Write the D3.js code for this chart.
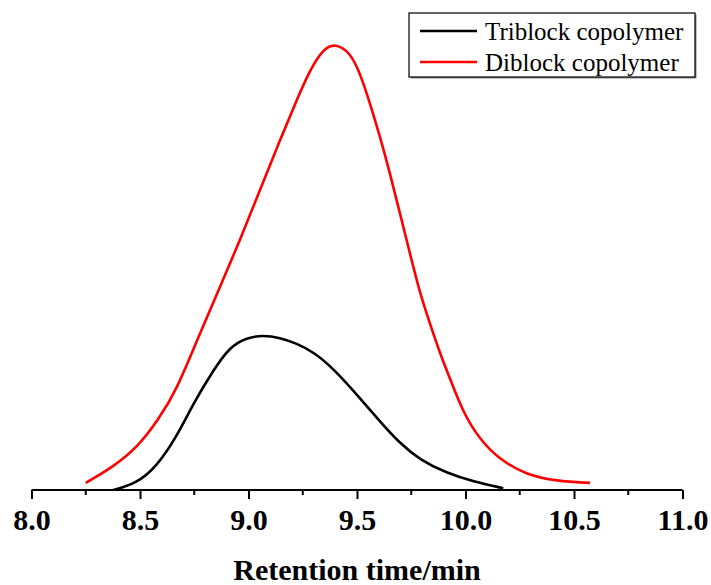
<!DOCTYPE html>
<html>
<head>
<meta charset="utf-8">
<script src="https://cdn.jsdelivr.net/npm/d3@7"></script>
<style>
  body { margin: 0; background: #fff; }
  svg { display: block; }
  text { font-family: "Liberation Serif", "Times New Roman", Times, Tinos, "DejaVu Serif", serif; }
</style>
</head>
<body>
<div id="chart"></div>
<script>
// retention time (min) and detector response (arbitrary units)
var diblockTime = [8.250, 8.377, 8.492, 8.584, 8.669, 8.776, 8.869, 8.961, 9.053, 9.145,
  9.222, 9.283, 9.345, 9.399, 9.468, 9.514, 9.560, 9.606, 9.652, 9.698, 9.744, 9.790,
  9.836, 9.882, 9.928, 9.990, 10.067, 10.159, 10.282, 10.420, 10.574];
var diblockSignal = [1.6, 5.2, 9.8, 15.8, 22.5, 35.3, 45.8, 56.3, 67.6, 78.8,
  87.8, 94.6, 99.4, 100.6, 98.6, 93.9, 87.1, 79.6, 71.3, 62.3, 53.3, 44.3,
  37.5, 30.8, 25.2, 17.3, 11.3, 6.8, 3.4, 2.0, 1.6];

var triblockTime = [8.376, 8.485, 8.577, 8.669, 8.746, 8.838, 8.915, 8.992, 9.068, 9.145,
  9.222, 9.299, 9.391, 9.514, 9.606, 9.698, 9.790, 9.913, 10.036, 10.174];
var triblockSignal = [0, 1.5, 5.3, 12.0, 19.5, 27.0, 32.3, 34.3, 34.9, 34.3,
  33.0, 31.1, 27.4, 20.7, 15.4, 10.5, 6.8, 3.8, 1.9, 0.4];

var majorTicks = [8.0, 8.5, 9.0, 9.5, 10.0, 10.5, 11.0];
var minorTicks = [8.25, 8.75, 9.25, 9.75, 10.25, 10.75];
var seriesNames = ["Triblock copolymer", "Diblock copolymer"];
var seriesColors = ["#000000", "#ff0000"];

var width = 711, height = 585;
var baseY = 490;
var serif = "'Liberation Serif', 'Times New Roman', Times, Tinos, 'DejaVu Serif', serif";

var svg = d3.select("#chart")
  .append("svg")
    .attr("width", width)
    .attr("height", height);

var x = d3.scaleLinear().domain([8, 11]).range([31.5, 682.5]);
var y = d3.scaleLinear().domain([0, 100]).range([baseY, 46]);

var line = d3.line()
  .x(function(d){ return x(d[0]); })
  .y(function(d){ return y(d[1]); })
  .curve(d3.curveBasis);

var series = [
  d3.zip(triblockTime, triblockSignal),
  d3.zip(diblockTime, diblockSignal)
];

// curves
svg.selectAll("path.trace")
  .data(series)
  .enter().append("path")
    .attr("class", "trace")
    .attr("d", line)
    .attr("fill", "none")
    .attr("stroke", function(d, i){ return seriesColors[i]; })
    .attr("stroke-width", 2.6)
    .attr("stroke-linejoin", "round");

// x axis, major ticks with labels
var axis = svg.append("g")
  .attr("transform", "translate(0," + baseY + ")")
  .call(d3.axisBottom(x)
    .tickValues(majorTicks)
    .tickSize(9)
    .tickPadding(10)
    .tickFormat(d3.format(".1f")));

axis.select(".domain")
  .attr("stroke", "#000")
  .attr("stroke-width", 2)
  .attr("d", "M" + x(8) + ",0H" + x(11));
axis.selectAll(".tick line").attr("stroke", "#000").attr("stroke-width", 2);
axis.attr("font-family", null).attr("font-size", null);
axis.selectAll(".tick text")
  .attr("fill", "#000")
  .style("font-family", serif)
  .style("font-weight", "bold")
  .style("font-size", "30px");

// minor ticks
svg.append("g")
  .attr("transform", "translate(0," + baseY + ")")
  .selectAll("line")
  .data(minorTicks)
  .enter().append("line")
    .attr("x1", function(d){ return x(d); })
    .attr("x2", function(d){ return x(d); })
    .attr("y1", 0)
    .attr("y2", 5)
    .attr("stroke", "#000")
    .attr("stroke-width", 2);

// axis title
svg.append("text")
  .attr("x", (x(8) + x(11)) / 2)
  .attr("y", 580)
  .attr("text-anchor", "middle")
  .style("font-family", serif)
  .style("font-weight", "bold")
  .style("font-size", "30px")
  .text("Retention time/min");

// legend box with a small shadow
var legend = svg.append("g").attr("transform", "translate(409,13)");
legend.append("rect")
  .attr("x", 1.5).attr("y", 1.5)
  .attr("width", 286).attr("height", 64)
  .attr("fill", "#888");
legend.append("rect")
  .attr("x", 0).attr("y", 0)
  .attr("width", 286).attr("height", 64)
  .attr("fill", "#fff")
  .attr("stroke", "#000")
  .attr("stroke-width", 1.2);

var rows = legend.selectAll("g.row")
  .data(seriesNames)
  .enter().append("g")
    .attr("class", "row")
    .attr("transform", function(d, i){ return "translate(0," + (18 + i * 31) + ")"; });

rows.append("line")
  .attr("x1", 11).attr("x2", 68)
  .attr("y1", 0).attr("y2", 0)
  .attr("stroke", function(d, i){ return seriesColors[i]; })
  .attr("stroke-width", 2.6);

rows.append("text")
  .attr("x", 76)
  .attr("y", 8.5)
  .style("font-family", serif)
  .style("font-size", "25px")
  .text(function(d){ return d; });
</script>
</body>
</html>
